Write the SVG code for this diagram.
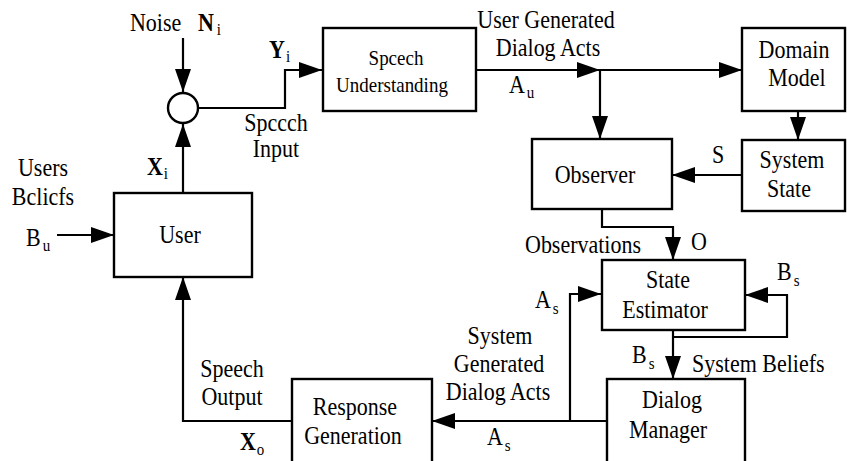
<svg xmlns="http://www.w3.org/2000/svg" width="847" height="461" viewBox="0 0 847 461">
<defs>
<marker id="ah" markerUnits="userSpaceOnUse" markerWidth="26" markerHeight="18" refX="23" refY="8" orient="auto">
<path d="M0,0 L23,8 L0,16 z" fill="#000"/>
</marker>
<style>
text{font-family:"Liberation Serif","Times New Roman",serif;font-size:22px;fill:#000;transform-box:fill-box;transform-origin:50% 80%;transform:scaleY(1.12)}
.c{text-anchor:middle}
.b{font-weight:bold}
.sub{font-size:15px}
.box{fill:#fff;stroke:#000;stroke-width:2.4}
.ln{fill:none;stroke:#000;stroke-width:2.2}
.arr{fill:none;stroke:#000;stroke-width:2.2;marker-end:url(#ah)}
</style>
</defs>
<rect width="847" height="461" fill="#fff"/>

<g id="connectors">
<path class="arr" d="M183,38 V92"/>
<path class="arr" d="M183,193 V124"/>
<path class="arr" d="M198,108 H285 V70 H322"/>
<path class="arr" d="M476,70 H600"/>
<path class="arr" d="M600,70 H742"/>
<path class="arr" d="M600,70 V139"/>
<path class="arr" d="M798,111 V140"/>
<path class="arr" d="M742,175 H672"/>
<path class="arr" d="M602,209 V227 H673 V260"/>
<path class="arr" d="M673,330 V379"/>
<path class="arr" d="M673,337 H787 V295 H745"/>
<path class="arr" d="M607,421 H432"/>
<path class="arr" d="M570,421 V294 H601"/>
<path class="arr" d="M292,421 H183 V277"/>
<path class="arr" d="M57,235 H114"/>
</g>

<g id="summer">
<circle cx="183" cy="108" r="15" fill="#fff" stroke="#000" stroke-width="2.4"/>
</g>

<g id="user">
<rect class="box" x="114" y="193" width="138" height="84"/>
<text class="c" x="180" y="243">User</text>
</g>

<g id="speech-understanding">
<rect class="box" x="323" y="28" width="153" height="83"/>
<text class="c" x="396" y="65" style="font-size:19px">Spcech</text>
<text class="c" x="392" y="92" style="font-size:19px">Understanding</text>
</g>

<g id="domain-model">
<rect class="box" x="742" y="28" width="103" height="83"/>
<text class="c" x="794" y="58">Domain</text>
<text class="c" x="797" y="86">Model</text>
</g>

<g id="system-state">
<rect class="box" x="742" y="140" width="103" height="71"/>
<text class="c" x="792" y="168">System</text>
<text class="c" x="789" y="197">State</text>
</g>

<g id="observer">
<rect class="box" x="532" y="139" width="140" height="70"/>
<text class="c" x="595" y="183">Observer</text>
</g>

<g id="state-estimator">
<rect class="box" x="602" y="260" width="143" height="70"/>
<text class="c" x="668" y="288">State</text>
<text class="c" x="665" y="318">Estimator</text>
</g>

<g id="dialog-manager">
<rect class="box" x="607" y="379" width="138" height="95"/>
<text class="c" x="672" y="408">Dialog</text>
<text class="c" x="668" y="438">Manager</text>
</g>

<g id="response-generation">
<rect class="box" x="292" y="379" width="140" height="95"/>
<text class="c" x="355" y="415">Response</text>
<text class="c" x="353" y="444">Generation</text>
</g>

<g id="labels">
<text x="130" y="31">Noise</text>
<text x="198" y="31"><tspan class="b">N</tspan><tspan class="sub" dx="3" dy="4">i</tspan></text>
<text x="269" y="58"><tspan class="b">Y</tspan><tspan class="sub" dx="1" dy="4">i</tspan></text>
<text class="c" x="276" y="131">Spccch</text>
<text class="c" x="276" y="157">Input</text>
<text x="147" y="175"><tspan class="b">X</tspan><tspan class="sub" dx="1" dy="4">i</tspan></text>
<text class="c" x="43" y="176">Users</text>
<text class="c" x="43" y="205">Bclicfs</text>
<text x="26" y="246">B<tspan class="sub" dx="2" dy="5">u</tspan></text>
<text class="c" x="546" y="28">User Generated</text>
<text class="c" x="548" y="56">Dialog Acts</text>
<text x="509" y="93">A<tspan class="sub" dx="2" dy="5">u</tspan></text>
<text x="712" y="163">S</text>
<text x="525" y="253">Observations</text>
<text x="691" y="250">O</text>
<text x="777" y="280">B<tspan class="sub" dx="2" dy="6">s</tspan></text>
<text x="632" y="363">B<tspan class="sub" dx="2" dy="6">s</tspan></text>
<text x="692" y="372">System Beliefs</text>
<text x="535" y="308">A<tspan class="sub" dx="2" dy="6">s</tspan></text>
<text class="c" x="500" y="344">System</text>
<text class="c" x="499" y="372">Generated</text>
<text class="c" x="498" y="400">Dialog Acts</text>
<text x="487" y="445">A<tspan class="sub" dx="2" dy="6">s</tspan></text>
<text class="c" x="232" y="377">Speech</text>
<text class="c" x="232" y="405">Output</text>
<text x="240" y="450"><tspan class="b">X</tspan><tspan class="sub" dx="1" dy="5">o</tspan></text>
</g>
</svg>
